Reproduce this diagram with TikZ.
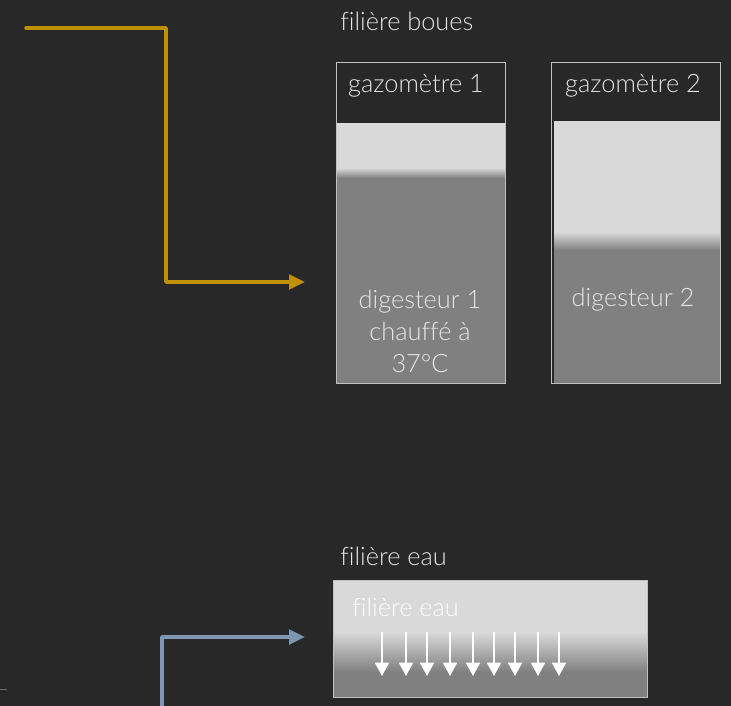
\documentclass[tikz,border=0pt]{standalone}
\usepackage{fontspec}
\setmainfont{Lato Light}[Ligatures=CommonOff]
\usetikzlibrary{arrows.meta}
\definecolor{bgc}{HTML}{282828}
\definecolor{lightc}{HTML}{D9D9D9}
\definecolor{grayc}{HTML}{808080}
\definecolor{outl}{HTML}{BFBFBF}
\definecolor{goldc}{HTML}{BF9000}
\definecolor{bluec}{HTML}{7F96B2}
\definecolor{txtc}{HTML}{E6E6E6}
\begin{document}
\begin{tikzpicture}[x=0.75pt,y=-0.75pt,
  txt/.style={text=txtc,font=\fontsize{19}{24}\selectfont,inner sep=0pt},
  frame/.style={draw=outl,line width=0.9pt,inner sep=0pt,anchor=north west},
  goldarrow/.style={draw=goldc,line width=2.6pt,line join=round,line cap=round,-{Triangle[width=11pt,length=12pt]}},
  bluearrow/.style={draw=bluec,line width=2.6pt,line join=round,-{Triangle[width=11pt,length=12pt]}},
  warrow/.style={draw=white,line width=1.3pt,-{Triangle[width=10.5pt,length=10pt]}}
]
\fill[bgc] (0,0) rectangle (731,706);
\useasboundingbox (0,0) rectangle (731,706);

% titles
\node[txt,anchor=west] (tb) at (340,21) {filière boues};
\node[txt,anchor=west] (te) at (340,556) {filière eau};

% box 1
\fill[lightc] (337,123) rectangle (505,168);
\shade[top color=lightc,bottom color=grayc] (337,168) rectangle (505,178);
\fill[grayc] (337,178) rectangle (505,383);
\node[frame,minimum width=126.75pt,minimum height=240.75pt] (g1) at (336,62) {};
\node[txt] (g1t) at (416,86) {gazomètre 1};
\node[txt,align=center] (d1) at (420,331) {digesteur 1\\chauffé à\\37°C};

% box 2
\fill[lightc] (554,121) rectangle (720,232);
\shade[top color=lightc,bottom color=grayc] (554,232) rectangle (720,250);
\fill[grayc] (554,250) rectangle (720,383);
\node[frame,minimum width=126.75pt,minimum height=240.75pt] (g2) at (551,62) {};
\node[txt] (g2t) at (633,86) {gazomètre 2};
\node[txt] (d2) at (633,300) {digesteur 2};

% water box
\fill[lightc] (333,580) rectangle (647,632);
\shade[top color=lightc,bottom color=grayc] (333,632) rectangle (647,672);
\fill[grayc] (333,672) rectangle (647,697);
\node[frame,minimum width=235.5pt,minimum height=87.75pt] (w) at (333,580) {};
\node[txt,anchor=west,text=white!94!lightc] (wt) at (352,607) {filière eau};
\foreach \x [count=\i] in {382,406,427,450,473,494,515,538,559}{
  \coordinate (a\i) at (\x,632);
  \coordinate (b\i) at (\x,676);
  \draw[warrow] (a\i) -- (b\i);
}

% gold connector
\coordinate (gs) at (26,28);
\coordinate (gc1) at (166,28);
\coordinate (gc2) at (166,282);
\coordinate (ge) at (305,282);
\draw[goldarrow] (gs) -- (gc1) -- (gc2) -- (ge);

% blue connector
\coordinate (bs) at (162,710);
\coordinate (bc) at (162,637);
\coordinate (be) at (305,637);
\draw[bluearrow] (bs) -- (bc) -- (be);

% small tick
\coordinate (k1) at (0,689);
\coordinate (k2) at (7,689);
\draw[draw=grayc!80!bgc,line width=0.75pt] (k1) -- (k2);
\end{tikzpicture}
\end{document}
